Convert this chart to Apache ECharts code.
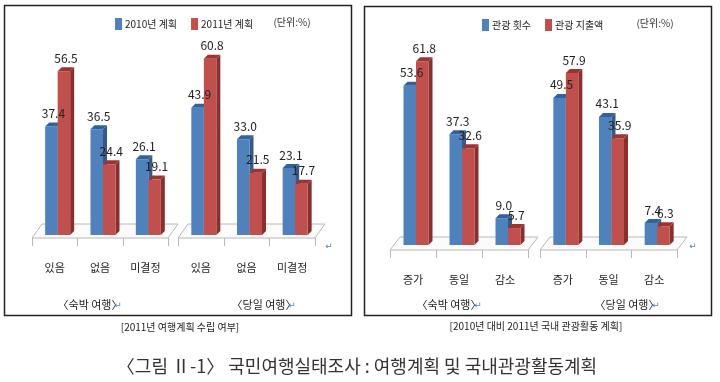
<!DOCTYPE html>
<html><head><meta charset="utf-8">
<script src="https://cdn.jsdelivr.net/npm/echarts@6/dist/echarts.min.js"></script>
<style>html,body{margin:0;padding:0;background:#fff}#c{width:720px;height:382px}</style>
</head><body><div id="c"></div>
<script>
// ---- data ----
const planCats = ['있음', '없음', '미결정'];
const actCats = ['증가', '동일', '감소'];
const planLegend = ['2010년 계획', '2011년 계획'];
const actLegend = ['관광 횟수', '관광 지출액'];
const planStay2010 = [37.4, 36.5, 26.1];
const planStay2011 = [56.5, 24.4, 19.1];
const planDay2010 = [43.9, 33.0, 23.1];
const planDay2011 = [60.8, 21.5, 17.7];
const actStayCount = [53.6, 37.3, 9.0];
const actStaySpend = [61.8, 32.6, 5.7];
const actDayCount = [49.5, 43.1, 7.4];
const actDaySpend = [57.9, 35.9, 6.3];
const groupLabels = ['〈숙박 여행〉', '〈당일 여행〉'];
const panelCaptions = ['[2011년 여행계획 수립 여부]', '[2010년 대비 2011년 국내 관광활동 계획]'];
const unitText = '(단위:%)';
const mainTitle = '〈그림 Ⅱ-1〉 국민여행실태조사 : 여행계획 및 국내관광활동계획';

const FONT = '"Liberation Sans Narrow","Noto Sans CJK KR",sans-serif';
const KFONT = '"Noto Sans CJK KR",sans-serif';
const BLUE = {front: '#4F81BD', top: '#35619A', side: '#36598A'};
const RED = {front: '#C0504D', top: '#9B3533', side: '#8A2F2D'};

function makeRender(col, isSecond) {
  return function (params, api) {
    const idx = api.value(0), val = api.value(1);
    const base = api.coord([idx, 0]);
    const top = api.coord([idx, val]);
    const c = base[0];
    const w = 12.5, d = 4;
    const x0 = isSecond ? c + 3 : c - 9.5;
    const yt = top[1], yb = base[1];
    return {
      type: 'group',
      children: [
        {type: 'polygon', shape: {points: [[x0 + w, yt], [x0 + w + d, yt - d], [x0 + w + d, yb - d], [x0 + w, yb]]}, style: {fill: col.side}},
        {type: 'rect', shape: {x: x0, y: yt, width: w, height: yb - yt}, style: {fill: col.front}},
        {type: 'polygon', shape: {points: [[x0, yt], [x0 + w, yt], [x0 + w + d, yt - d], [x0 + d, yt - d]]}, style: {fill: col.top}},
        {type: 'text', z2: 100, style: {text: val.toFixed(1), x: x0 + w / 2 + 2, y: yt - 13, align: 'center', verticalAlign: 'middle', fill: '#222', font: '12px ' + FONT}}
      ]
    };
  };
}

const grids = [
  {left: 32, width: 136, top: 32, height: 203},
  {left: 178, width: 137, top: 32, height: 203},
  {left: 390, width: 138, top: 37, height: 208},
  {left: 540, width: 137, top: 37, height: 208}
];
const xAxes = grids.map((g, i) => ({
  type: 'category', gridIndex: i, data: i < 2 ? planCats : actCats,
  axisLine: {show: false}, axisTick: {show: false},
  axisLabel: {margin: i < 2 ? 27 : 29, fontSize: 11, fontFamily: KFONT, color: '#222'}
}));
const yAxes = grids.map((g, i) => ({type: 'value', gridIndex: i, min: 0, max: 70, show: false}));

const seriesDefs = [
  [planLegend[0], planStay2010, 0, BLUE, false],
  [planLegend[1], planStay2011, 0, RED, true],
  [planLegend[0], planDay2010, 1, BLUE, false],
  [planLegend[1], planDay2011, 1, RED, true],
  [actLegend[0], actStayCount, 2, BLUE, false],
  [actLegend[1], actStaySpend, 2, RED, true],
  [actLegend[0], actDayCount, 3, BLUE, false],
  [actLegend[1], actDaySpend, 3, RED, true]
];
const series = seriesDefs.map(([name, vals, gi, col, second]) => ({
  type: 'custom', name: name, xAxisIndex: gi, yAxisIndex: gi,
  itemStyle: {color: col.front},
  data: vals.map((v, i) => [i, v]),
  encode: {x: 0, y: 1},
  renderItem: makeRender(col, second)
}));

// floors (decorative 3D base planes)
function floor(x1, x2, yb, yt, dx) {
  const els = [{
    type: 'polygon', silent: true,
    shape: {points: [[x1, yb], [x1 + dx, yt], [x2 + dx, yt], [x2, yb]]},
    style: {fill: '#fbfbfb', stroke: '#b8b8b8', lineWidth: 1}, z: -1
  }];
  const step = (x2 - x1) / 3;
  for (let k = 0; k <= 3; k++) {
    const x = Math.round(x1 + k * step) + 0.5;
    els.push({type: 'line', silent: true, shape: {x1: x, y1: yb, x2: x, y2: yb + 8}, style: {stroke: '#b8b8b8', lineWidth: 1}, z: -1});
  }
  return els;
}
function txt(t, x, y, size, color, font, align) {
  return {type: 'text', silent: true, style: {text: t, x: x, y: y, align: align || 'center', verticalAlign: 'middle', fill: color || '#222', font: size + 'px ' + (font || KFONT)}};
}

const graphic = [
  {type: 'rect', silent: true, shape: {x: 4.5, y: 5.5, width: 347, height: 310}, style: {fill: 'none', stroke: '#222', lineWidth: 1.5}, z: -2},
  {type: 'rect', silent: true, shape: {x: 364.5, y: 6.5, width: 347, height: 309}, style: {fill: 'none', stroke: '#222', lineWidth: 1.5}, z: -2},
  ...floor(32, 168, 238, 224, 10),
  ...floor(178, 315, 238, 224, 10),
  ...floor(390, 528, 250, 237, 10),
  ...floor(540, 677, 250, 237, 10),
  txt(unitText, 292, 22, 10, '#333'),
  txt(unitText, 655, 23, 10, '#333'),
  txt(groupLabels[0], 90, 305, 11),
  txt(groupLabels[1], 264, 305, 11),
  txt(groupLabels[0], 449, 305, 11),
  txt(groupLabels[1], 627, 305, 11),
  txt('↵', 118, 306, 9, '#5a7fb0', 'DejaVu Sans'),
  txt('↵', 292, 306, 9, '#5a7fb0', 'DejaVu Sans'),
  txt('↵', 478, 306, 9, '#5a7fb0', 'DejaVu Sans'),
  txt('↵', 656, 306, 9, '#5a7fb0', 'DejaVu Sans'),
  txt('↵', 329, 247, 9, '#5a7fb0', 'DejaVu Sans'),
  txt('↵', 693, 247, 9, '#5a7fb0', 'DejaVu Sans'),
  txt(panelCaptions[0], 180, 327, 10, '#222'),
  txt(panelCaptions[1], 536, 326, 10, '#222'),
  txt(mainTitle, 357, 366, 18, '#333')
];

const chart = echarts.init(document.getElementById('c'), null, {renderer: 'canvas'});
chart.setOption({
  animation: false,
  legend: [
    {data: planLegend, left: 110, top: 13, icon: 'rect', itemWidth: 7, itemHeight: 12, itemGap: 14, textStyle: {fontSize: 10, fontFamily: KFONT, color: '#222', padding: [0, 0, 0, -2]}, selectedMode: false},
    {data: actLegend, left: 477, top: 14, icon: 'rect', itemWidth: 7, itemHeight: 12, itemGap: 14, textStyle: {fontSize: 10, fontFamily: KFONT, color: '#222', padding: [0, 0, 0, -2]}, selectedMode: false}
  ],
  grid: grids,
  xAxis: xAxes,
  yAxis: yAxes,
  series: series,
  graphic: graphic
});
</script></body></html>
